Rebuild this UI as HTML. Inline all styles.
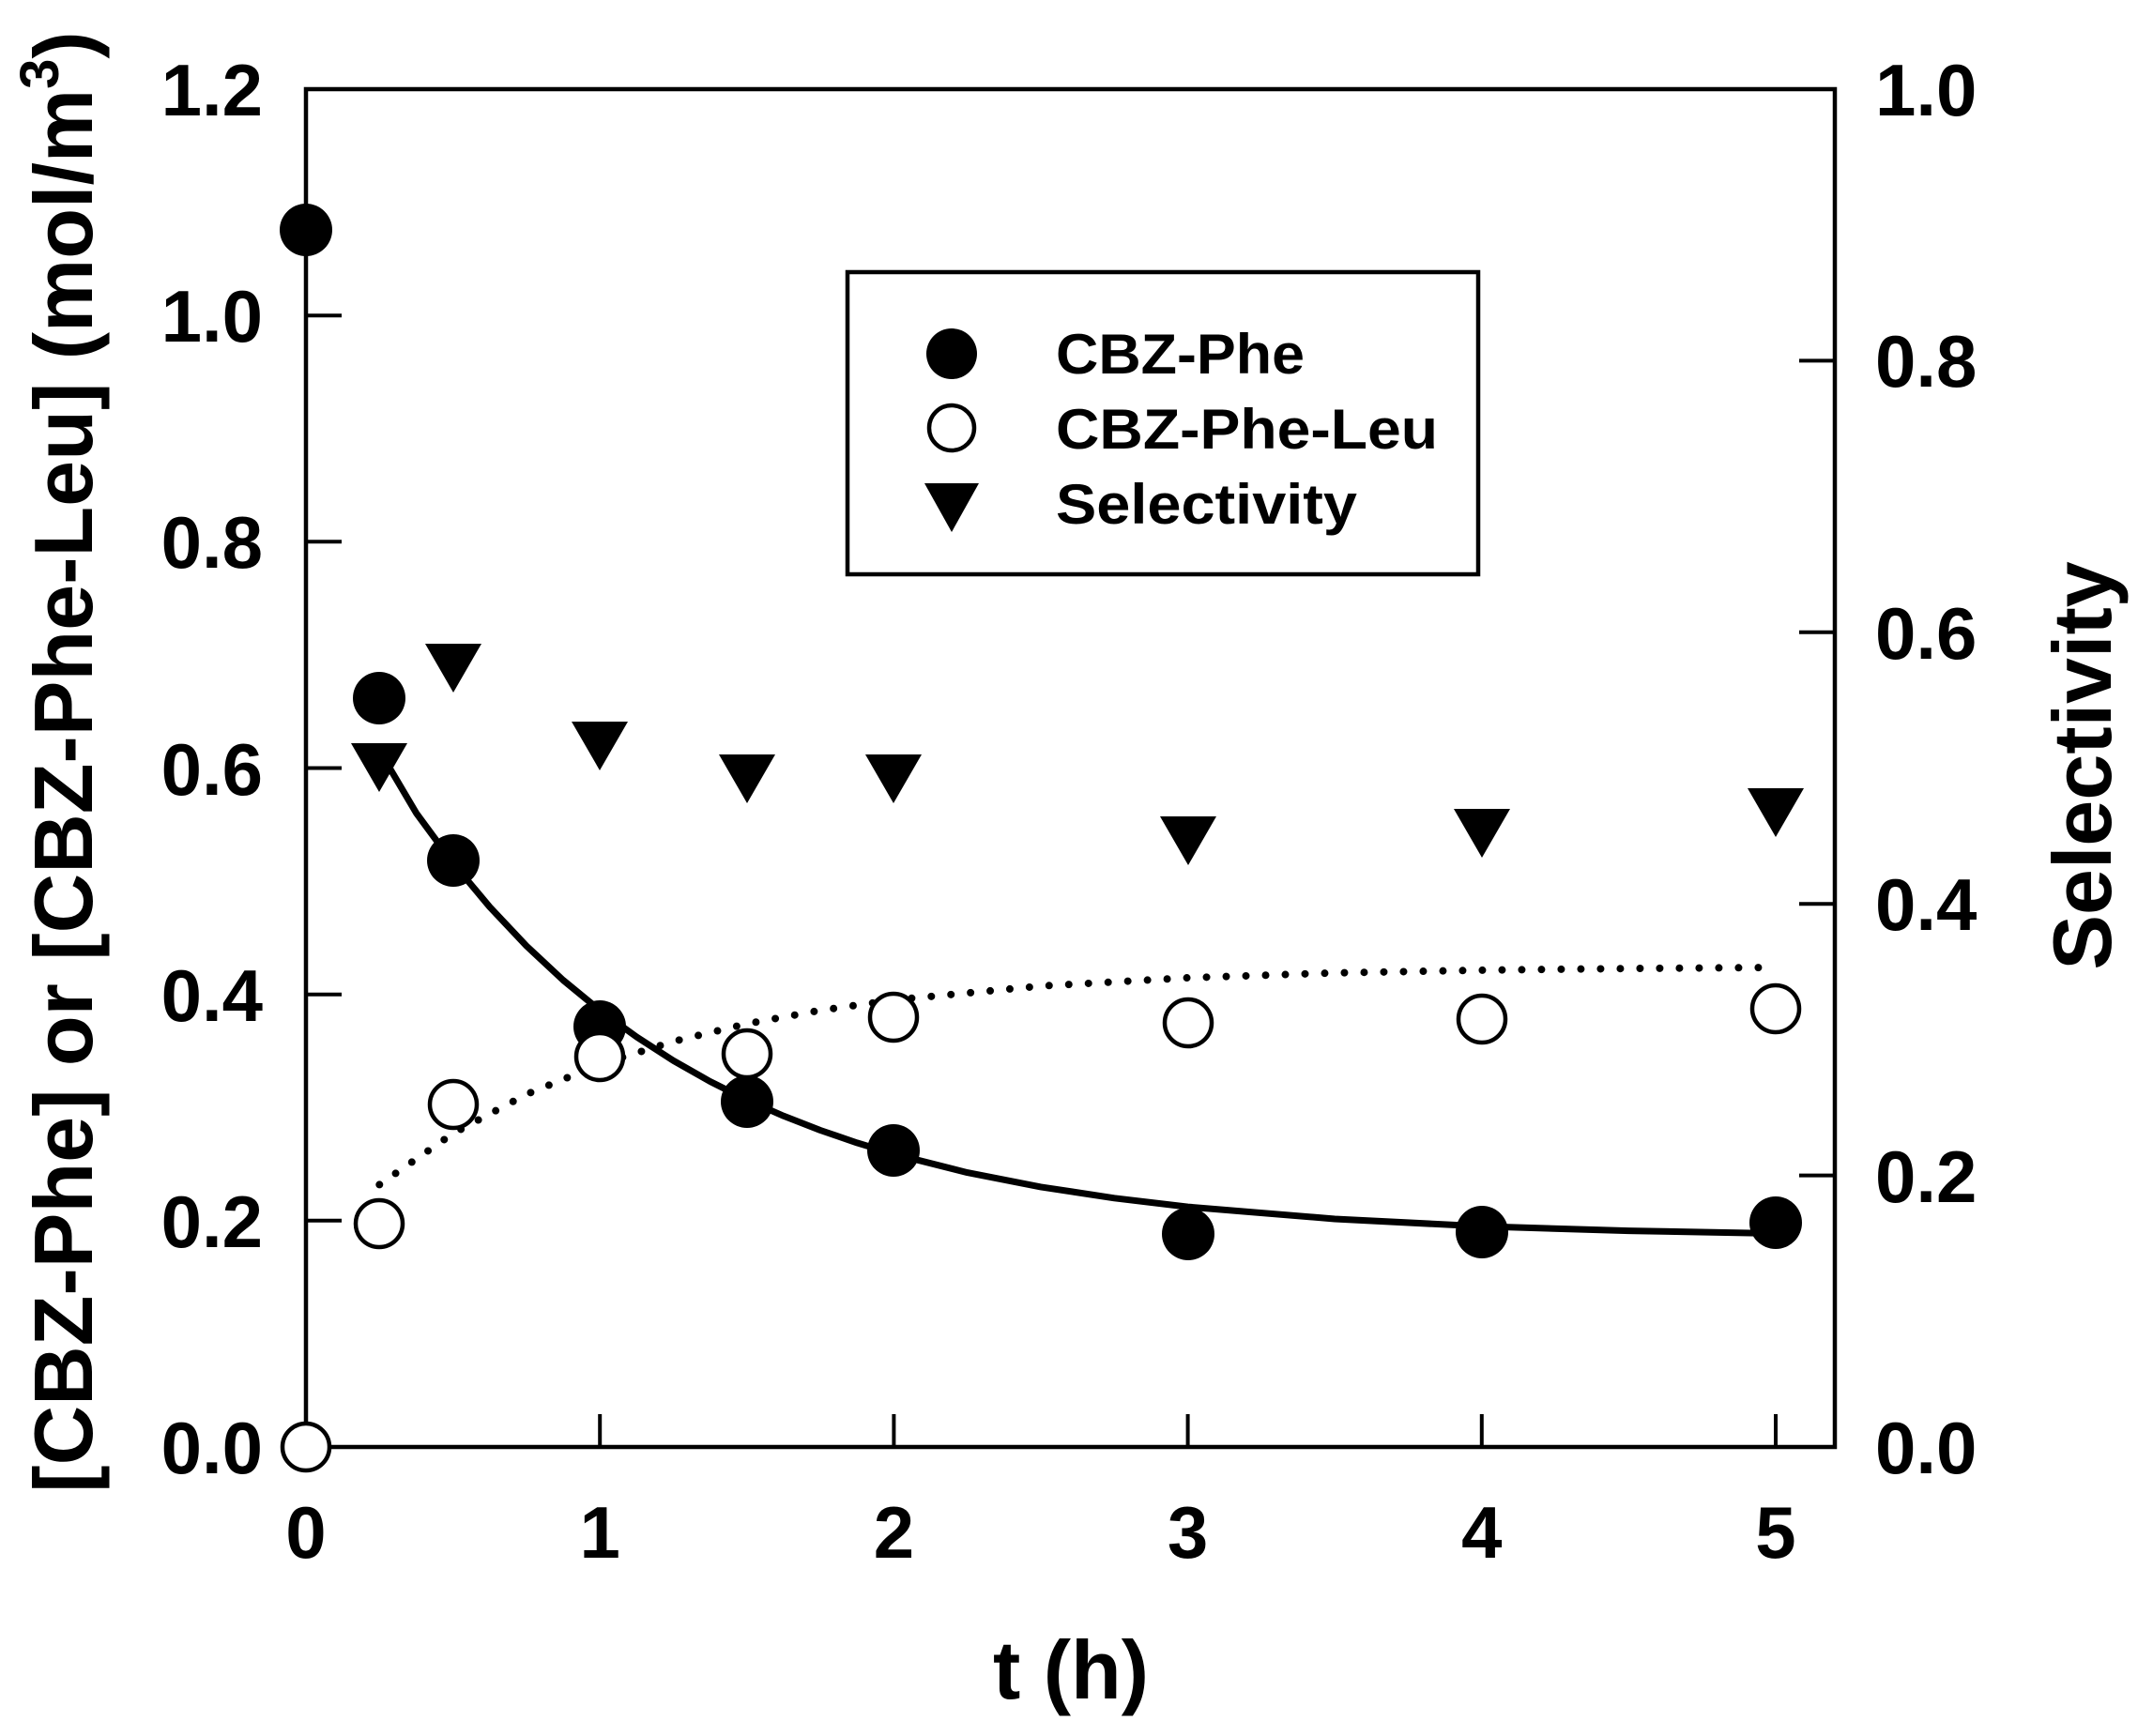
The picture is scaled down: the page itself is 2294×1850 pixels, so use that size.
<!DOCTYPE html>
<html><head><meta charset="utf-8"><style>html,body{margin:0;padding:0;background:#fff}svg{display:block}</style></head>
<body>
<svg width="2294" height="1850" viewBox="0 0 2294 1850" xmlns="http://www.w3.org/2000/svg" font-family="Liberation Sans, Arial, sans-serif" font-weight="bold">
<rect width="2294" height="1850" fill="#fff"/>
<rect x="326" y="95" width="1629" height="1447" fill="none" stroke="#000" stroke-width="4.5"/>
<g stroke="#000" stroke-width="4">
<line x1="326" y1="1300.8" x2="364" y2="1300.8"/>
<line x1="326" y1="1059.7" x2="364" y2="1059.7"/>
<line x1="326" y1="818.5" x2="364" y2="818.5"/>
<line x1="326" y1="577.3" x2="364" y2="577.3"/>
<line x1="326" y1="336.2" x2="364" y2="336.2"/>
<line x1="1955" y1="1252.6" x2="1917" y2="1252.6"/>
<line x1="1955" y1="963.2" x2="1917" y2="963.2"/>
<line x1="1955" y1="673.8" x2="1917" y2="673.8"/>
<line x1="1955" y1="384.4" x2="1917" y2="384.4"/>
<line x1="639.2" y1="1542" x2="639.2" y2="1507"/>
<line x1="952.4" y1="1542" x2="952.4" y2="1507"/>
<line x1="1265.6" y1="1542" x2="1265.6" y2="1507"/>
<line x1="1578.8" y1="1542" x2="1578.8" y2="1507"/>
<line x1="1892" y1="1542" x2="1892" y2="1507"/>
</g>
<g font-size="78" text-anchor="end">
<text x="280" y="1570">0.0</text>
<text x="280" y="1329">0.2</text>
<text x="280" y="1088">0.4</text>
<text x="280" y="847">0.6</text>
<text x="280" y="605">0.8</text>
<text x="280" y="364">1.0</text>
<text x="280" y="123">1.2</text>
</g>
<g font-size="78" text-anchor="start">
<text x="1998" y="1570">0.0</text>
<text x="1998" y="1281">0.2</text>
<text x="1998" y="991">0.4</text>
<text x="1998" y="702">0.6</text>
<text x="1998" y="412">0.8</text>
<text x="1998" y="123">1.0</text>
</g>
<g font-size="78" text-anchor="middle">
<text x="326" y="1660">0</text>
<text x="639.2" y="1660">1</text>
<text x="952.4" y="1660">2</text>
<text x="1265.6" y="1660">3</text>
<text x="1578.8" y="1660">4</text>
<text x="1892" y="1660">5</text>
</g>
<text x="1141" y="1810" font-size="88" text-anchor="middle">t (h)</text>
<text transform="translate(2249,816) rotate(-90)" font-size="88" text-anchor="middle">Selectivity</text>
<text transform="translate(98,812) rotate(-90)" font-size="88" text-anchor="middle">[CBZ-Phe] or [CBZ-Phe-Leu] (mol/m<tspan font-size="58" dy="-36">3</tspan><tspan dy="36">)</tspan></text>
<polyline fill="none" stroke="#000" stroke-width="7" stroke-linejoin="round"
 points="404.3,800 443.5,866.4 482.6,919.6 521.8,966.5 560.9,1008 600,1044.5 639.2,1076.7 678.4,1105.1 717.5,1130.3 756.6,1152.5 795.8,1172.1 835,1189.3 874.1,1204.5 913.2,1217.9 952.4,1229.8 1030.7,1249.6 1109,1264.9 1187.3,1276.8 1265.6,1286.1 1422.2,1299 1578.8,1306.9 1735.4,1311.6 1892,1314.5"/>
<polyline fill="none" stroke="#000" stroke-width="8" stroke-linecap="round" stroke-dasharray="0 21"
 points="404.3,1262.4 482.6,1208 560.9,1166.2 639.2,1134.3 717.5,1109.8 795.8,1091 874.1,1076.7 952.4,1065.6 1109,1050.8 1265.6,1042 1422.2,1036.8 1578.8,1033.9 1735.4,1032.1 1892,1031"/>
<g fill="#000">
<circle cx="326" cy="245" r="28"/>
<circle cx="404" cy="744" r="28"/>
<circle cx="483" cy="917" r="28"/>
<circle cx="639" cy="1094" r="28"/>
<circle cx="796" cy="1174" r="28"/>
<circle cx="952" cy="1226" r="28"/>
<circle cx="1266" cy="1315" r="28"/>
<circle cx="1579" cy="1313" r="28"/>
<circle cx="1892" cy="1303" r="28"/>
</g>
<g fill="#fff" stroke="#000" stroke-width="4.5">
<circle cx="326" cy="1542" r="25"/>
<circle cx="404" cy="1304" r="25"/>
<circle cx="483" cy="1177" r="25"/>
<circle cx="639" cy="1126" r="25"/>
<circle cx="796" cy="1123" r="25"/>
<circle cx="952" cy="1084" r="25"/>
<circle cx="1266" cy="1090" r="25"/>
<circle cx="1579" cy="1086" r="25"/>
<circle cx="1892" cy="1075" r="25"/>
</g>
<g fill="#000">
<polygon points="374,792 434,792 404,844"/>
<polygon points="453,686 513,686 483,738"/>
<polygon points="609,769 669,769 639,821"/>
<polygon points="766,804 826,804 796,856"/>
<polygon points="922,804 982,804 952,856"/>
<polygon points="1236,870 1296,870 1266,922"/>
<polygon points="1549,862 1609,862 1579,914"/>
<polygon points="1862,840 1922,840 1892,892"/>
</g>
<rect x="903" y="290" width="672" height="322" fill="#fff" stroke="#000" stroke-width="4.5"/>
<circle cx="1014" cy="377" r="27" fill="#000"/>
<circle cx="1014" cy="456" r="24" fill="#fff" stroke="#000" stroke-width="4.5"/>
<polygon points="985,515 1043,515 1014,567" fill="#000"/>
<g font-size="60">
<text x="1125" y="398" textLength="265" lengthAdjust="spacingAndGlyphs">CBZ-Phe</text>
<text x="1125" y="478" textLength="407" lengthAdjust="spacingAndGlyphs">CBZ-Phe-Leu</text>
<text x="1125" y="558" textLength="321" lengthAdjust="spacingAndGlyphs">Selectivity</text>
</g>
</svg>
</body></html>
